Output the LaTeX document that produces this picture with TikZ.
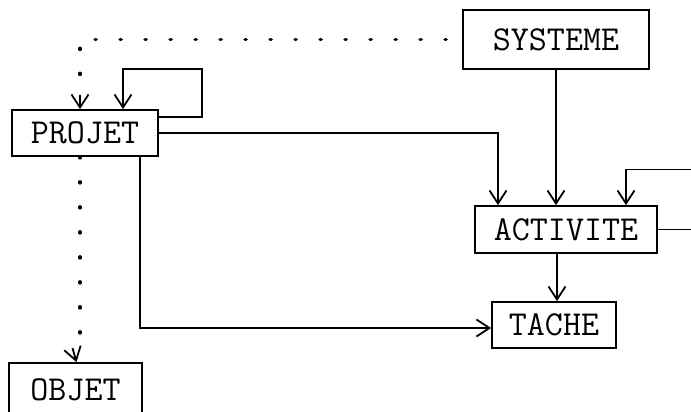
\documentclass[tikz,border=0pt]{standalone}
\usetikzlibrary{arrows.meta,positioning}

\begin{document}
\begin{tikzpicture}[x=1pt,y=-1pt]
    \tikzset{
      boxnode/.style={rectangle,draw=black,line width=1.8pt,inner sep=0pt,font=\ttfamily\fontsize{35}{40}\selectfont,text centered},
      arrow/.style={-{Straight Barb[length=13pt,width=17pt,line width=1.8pt]},line width=1.8pt},
      dotline/.style={line width=3.5pt,line cap=round,dash pattern=on 1pt off 24pt}
    }
    \clip (0,0) rectangle (691,412);
    \node[boxnode,minimum width=186pt,minimum height=59pt](systeme) at (556,39.5){SYSTEME};
    \node[boxnode,minimum width=146pt,minimum height=46pt](projet) at (85,133){PROJET};
    \node[boxnode,minimum width=182pt,minimum height=47pt](activite) at (566,229.5){ACTIVITE};
    \node[boxnode,minimum width=124pt,minimum height=46pt](tache) at (554,325){TACHE};
    \node[boxnode,minimum width=133pt,minimum height=54pt](objet) at (75.5,390){OBJET};

    % dotted links, solid tips
    \draw[dotline,shorten <=16pt,shorten >=14pt](systeme.west) -| ([xshift=-5pt]projet.north);
    \draw[arrow]([xshift=-5pt,yshift=14pt]projet.north) -- ([xshift=-5pt]projet.north);
    \draw[dotline,shorten >=14pt]([xshift=-5pt]projet.south) -- ([xshift=-5pt]projet.south |- objet.north);
    \draw[arrow]([xshift=-3pt,yshift=14pt]objet.north) -- ([xshift=1pt]objet.north);

    \draw[arrow]([yshift=-8pt]projet.north east) -- ++(43,0) -- ++(0,-48) -| ([xshift=38pt]projet.north);
    \draw[arrow](projet.east) -| ([xshift=-68pt]activite.north);
    \draw[arrow](systeme.south) -- (systeme.south |- activite.north);
    \draw[arrow](activite.east) -- ++(50,0) -- ++(0,-60) -| ([xshift=60pt]activite.north);
    \draw[arrow]([xshift=-9pt]activite.south) -- ([xshift=-9pt]activite.south |- tache.north);
    \draw[arrow]([xshift=55pt]projet.south) |- ([yshift=-3pt]tache.west);

  \end{tikzpicture}
\end{document}
